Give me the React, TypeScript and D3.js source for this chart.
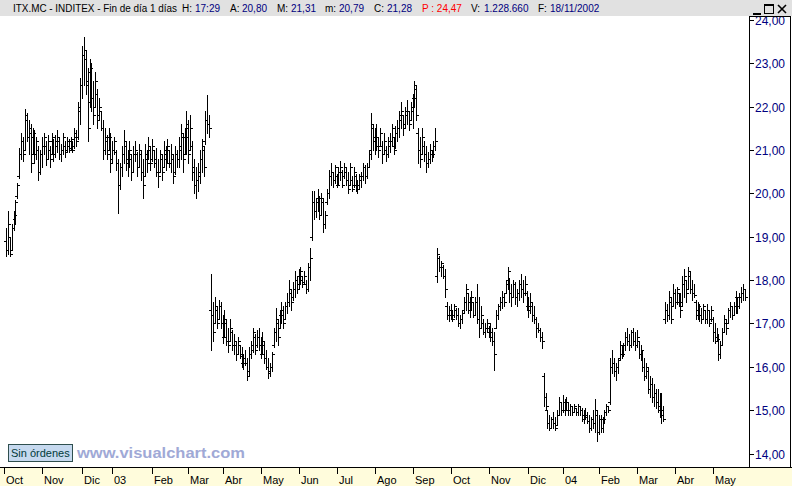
import React from 'react';
import * as d3 from 'd3';

// ---- OHLC data (daily bars) ----
const high = [
  19.2,19.6,19.0,19.3,19.6,19.85,20.25,21.05,21.4,21.3,
  21.95,21.85,21.7,21.6,21.5,21.45,21.3,21.1,21.0,21.3,
  21.4,21.2,21.35,21.1,21.4,21.25,21.35,21.45,21.3,21.15,
  21.4,21.2,21.3,21.25,21.3,21.2,21.5,21.45,22.1,22.65,
  23.4,23.6,23.3,22.9,23.1,23.0,22.6,22.8,22.4,22.2,
  21.9,21.7,21.5,21.35,21.5,21.4,21.2,21.3,21.0,20.8,
  20.7,21.1,21.45,21.2,21.0,21.2,20.9,21.1,21.2,20.95,
  21.15,21.0,20.8,21.15,21.0,21.3,21.1,21.25,21.0,21.05,
  20.8,21.0,20.9,21.2,21.1,21.25,21.0,21.15,20.9,21.1,
  21.0,21.3,21.6,21.4,21.5,21.9,21.7,21.8,21.2,20.8,
  20.6,20.7,21.0,21.25,21.1,21.9,22.27,21.8,
  18.15,17.5,17.6,17.4,17.55,17.5,17.2,17.3,17.1,16.9,
  17.1,16.85,16.75,16.6,16.7,16.5,16.45,16.3,16.4,16.2,
  16.45,16.6,16.9,16.75,16.85,16.9,16.7,16.8,16.6,16.4,
  16.2,16.1,16.35,16.9,17.35,17.1,17.3,17.5,17.4,17.5,
  17.7,18.0,17.8,17.95,18.2,18.1,18.25,18.3,18.1,18.2,
  18.0,18.4,18.73,
  20.05,20.05,19.9,20.1,19.95,20.0,19.9,19.6,20.1,20.55,
  20.7,20.5,20.65,20.45,20.6,20.75,20.55,20.7,20.6,20.5,
  20.7,20.4,20.6,20.45,20.3,20.45,20.5,20.7,20.65,20.7,
  21.0,21.85,21.6,21.5,21.6,21.3,21.5,21.2,21.4,21.1,
  21.3,21.4,21.6,21.3,21.55,21.7,21.9,22.1,21.8,22.0,
  22.15,21.9,22.1,22.3,22.6,22.5,21.5,21.3,21.5,21.2,
  21.1,20.95,21.15,21.0,21.2,21.5,
  18.73,18.55,18.45,18.35,18.25,17.5,17.4,17.45,17.3,17.45,
  17.35,17.35,17.2,17.3,17.6,17.9,17.7,17.6,17.75,17.5,
  17.6,17.9,17.6,17.4,17.1,17.0,17.1,16.95,17.0,16.9,
  16.8,17.3,17.45,17.6,17.75,17.7,18.0,18.3,18.05,17.9,
  18.0,17.95,17.8,18.0,18.15,18.0,18.1,17.75,17.6,17.7,
  17.5,17.4,17.15,17.0,16.9,16.8,
  15.85,15.4,15.0,14.9,14.85,14.95,14.85,15.0,15.3,15.2,
  15.35,15.25,15.3,15.2,15.15,15.1,15.15,15.05,15.15,15.1,
  15.05,15.0,15.05,14.95,14.9,14.85,15.0,15.25,15.0,14.9,
  14.9,14.85,15.0,15.15,15.1,16.2,16.38,16.2,16.1,16.2,
  16.6,16.5,16.55,16.8,16.9,16.75,16.85,16.9,16.8,16.85,
  16.6,16.5,16.4,16.2,16.1,16.0,15.8,15.75,15.6,15.5,
  15.5,15.4,15.4,15.1,
  17.5,17.45,17.75,17.6,17.9,17.8,17.85,17.7,17.7,18.1,
  18.25,18.0,18.3,18.2,18.0,17.9,17.55,17.5,17.45,17.35,
  17.45,17.3,17.45,17.3,17.4,17.15,17.0,16.9,16.75,16.6,
  16.9,17.2,17.1,17.35,17.5,17.4,17.5,17.75,17.6,17.7,
  17.85,17.9,17.8,
];

const low = [
  18.55,18.6,18.55,18.7,19.15,19.3,19.9,20.35,20.8,20.75,
  21.0,21.2,20.9,20.5,20.9,20.7,20.8,20.3,20.45,20.6,
  20.9,20.65,20.8,20.6,20.9,20.75,20.85,20.95,20.8,20.75,
  20.9,20.85,20.95,20.95,21.0,20.95,21.05,21.1,21.25,21.6,
  22.2,22.5,22.3,21.2,22.0,21.9,21.6,22.0,21.5,21.7,
  21.45,20.8,20.9,20.8,21.0,20.5,20.7,20.9,20.55,19.55,
  20.1,20.4,20.7,20.55,20.4,20.6,20.3,20.5,20.75,20.4,
  20.6,20.3,19.9,20.4,20.5,20.8,20.55,20.75,20.6,20.4,
  20.15,20.5,20.3,20.6,20.55,20.7,20.6,20.5,20.25,20.45,
  20.6,20.6,20.8,20.5,20.9,20.9,20.7,21.0,20.3,20.0,
  19.9,20.05,20.25,20.5,20.4,21.15,21.4,21.3,
  16.4,16.6,17.0,16.9,17.1,16.9,16.55,16.7,16.5,16.35,
  16.6,16.4,16.3,16.15,16.3,16.2,16.0,15.95,16.05,15.7,
  15.8,16.2,16.35,16.3,16.45,16.4,16.2,16.3,16.1,15.95,
  15.75,15.8,15.9,16.45,16.6,16.5,16.9,17.0,16.9,17.1,
  17.25,17.4,17.3,17.55,17.6,17.7,17.8,17.9,17.85,17.9,
  17.7,17.75,18.0,
  18.92,19.4,19.45,19.6,19.4,19.5,19.1,19.2,19.75,19.9,
  20.2,20.15,20.25,20.15,20.2,20.3,20.15,20.35,20.2,20.0,
  20.2,20.05,20.15,20.05,20.0,20.1,20.15,20.3,20.25,20.35,
  20.6,20.8,21.0,20.9,21.0,20.85,21.1,20.7,20.9,20.75,
  20.85,20.95,21.1,20.9,21.05,21.2,21.3,21.5,21.35,21.5,
  21.6,21.45,21.7,21.5,22.0,21.7,20.7,20.6,20.9,20.75,
  20.5,20.6,20.7,20.75,20.85,21.0,
  17.95,18.2,18.1,18.05,17.6,17.1,17.05,17.1,17.05,17.15,
  17.1,16.95,16.9,17.0,17.25,17.3,17.25,17.15,17.3,17.15,
  17.2,17.0,16.7,16.9,16.75,16.7,16.8,16.7,16.6,16.5,
  15.92,16.9,17.1,17.3,17.35,17.4,17.7,17.8,17.5,17.4,
  17.6,17.45,17.4,17.55,17.6,17.5,17.65,17.3,17.15,17.25,
  17.05,17.0,16.7,16.8,16.6,16.43,
  15.1,15.0,14.6,14.55,14.6,14.6,14.55,14.65,14.9,14.9,
  14.95,14.9,15.0,14.9,14.9,14.9,14.95,14.88,14.9,14.9,
  14.75,14.7,14.8,14.7,14.5,14.55,14.6,14.5,14.3,14.45,
  14.5,14.5,14.7,14.9,14.95,15.15,15.85,15.8,15.7,15.85,
  16.15,16.2,16.25,16.4,16.5,16.4,16.45,16.5,16.4,16.45,
  16.2,16.15,15.9,15.7,15.75,15.4,15.3,15.2,15.1,15.05,
  14.95,14.85,14.7,14.75,
  17.0,17.05,17.1,17.0,17.4,17.35,17.45,17.4,17.15,17.4,
  17.6,17.5,17.8,17.7,17.55,17.6,17.1,17.1,17.05,17.0,
  17.1,17.0,17.0,16.95,17.05,16.6,16.55,16.6,16.15,16.2,
  16.5,16.8,16.75,17.0,17.15,17.1,17.2,17.25,17.25,17.35,
  17.5,17.55,17.55,
];

const open = [
  18.9,18.7,19.0,18.7,19.2,19.4,19.95,20.4,20.9,21.2,
  21.0,21.7,21.3,21.4,20.9,21.3,20.9,21.0,20.5,20.9,
  21.1,21.1,20.8,21.0,20.9,21.2,20.9,21.1,21.2,20.9,
  21.0,21.1,21.0,21.1,21.05,21.2,21.1,21.3,21.3,21.9,
  22.5,23.2,23.1,22.6,22.1,22.8,22.2,22.0,22.3,21.8,
  21.9,21.5,21.0,21.2,21.0,21.3,20.8,21.0,20.95,20.7,
  20.2,20.6,20.9,21.1,20.7,20.8,20.9,20.5,20.9,20.9,
  20.6,20.9,20.5,20.4,20.9,20.8,21.0,20.8,21.0,20.8,
  20.5,20.5,20.8,20.6,20.9,20.8,21.0,20.7,20.8,20.5,
  20.9,20.8,21.0,21.3,20.9,21.3,21.5,21.0,21.1,20.6,
  20.2,20.3,20.4,20.8,21.0,21.2,21.7,21.6,
  17.3,17.2,17.0,17.3,17.1,17.4,17.0,16.7,17.0,16.6,
  16.6,16.8,16.5,16.5,16.3,16.5,16.3,16.1,16.2,16.1,
  15.9,16.3,16.4,16.7,16.5,16.7,16.5,16.3,16.5,16.2,
  16.0,15.9,16.0,16.5,16.8,17.0,16.9,17.2,17.3,17.1,
  17.4,17.5,17.7,17.6,17.8,18.0,17.9,18.1,18.0,17.95,
  17.9,17.8,18.3,
  19.0,19.8,19.6,19.8,19.9,19.5,19.8,19.3,19.8,20.0,
  20.4,20.5,20.3,20.4,20.2,20.5,20.5,20.4,20.5,20.3,
  20.2,20.3,20.2,20.4,20.2,20.1,20.3,20.4,20.6,20.4,
  20.6,21.0,21.5,21.2,21.3,21.1,21.1,21.1,20.9,21.0,
  20.9,21.1,21.2,21.3,21.1,21.4,21.5,21.7,21.8,21.6,
  21.8,21.9,21.7,21.9,22.2,22.4,21.4,21.0,20.9,21.1,
  20.9,20.7,20.8,20.9,20.9,21.1,
  18.1,18.5,18.3,18.3,18.1,17.4,17.2,17.3,17.2,17.2,
  17.3,17.2,17.0,17.1,17.3,17.5,17.7,17.3,17.5,17.5,
  17.2,17.5,17.1,16.9,17.0,16.8,16.9,16.9,16.8,16.7,
  16.6,16.9,17.2,17.4,17.5,17.6,17.7,17.9,18.0,17.7,
  17.6,17.9,17.6,17.7,17.9,17.8,17.7,17.7,17.4,17.3,
  17.4,17.2,17.1,16.9,16.85,16.7,
  15.8,15.3,15.0,14.7,14.6,14.8,14.7,14.65,14.9,15.2,
  15.0,15.2,15.0,15.2,15.0,15.1,14.95,15.05,14.95,15.1,
  15.0,14.8,14.9,14.85,14.75,14.6,14.8,14.7,14.9,14.5,
  14.8,14.6,14.8,14.95,15.1,15.2,16.0,16.1,15.9,16.0,
  16.2,16.5,16.3,16.5,16.7,16.6,16.5,16.8,16.6,16.5,
  16.6,16.3,16.3,16.0,15.8,15.9,15.5,15.6,15.3,15.4,
  15.2,15.1,15.0,14.9,
  17.1,17.3,17.2,17.5,17.4,17.7,17.5,17.7,17.5,17.4,
  17.9,18.0,17.8,18.1,17.8,17.7,17.5,17.2,17.3,17.2,
  17.1,17.3,17.1,17.3,17.1,17.1,16.8,16.7,16.6,16.3,
  16.5,16.8,17.0,17.0,17.3,17.4,17.2,17.4,17.6,17.4,
  17.6,17.7,17.8,
];

const close = [
  18.7,19.3,18.6,19.2,19.5,19.8,20.2,20.9,21.2,20.9,
  21.8,21.3,21.5,20.7,21.4,20.9,21.2,20.5,20.9,21.1,
  21.3,20.8,21.2,20.8,21.3,20.9,21.2,21.3,20.9,21.0,
  21.3,20.95,21.2,21.0,21.25,21.0,21.4,21.2,22.0,22.5,
  23.2,23.3,22.5,21.5,22.9,22.2,21.8,22.6,21.7,22.0,
  21.5,21.0,21.3,20.9,21.3,20.7,21.0,21.2,20.7,20.2,
  20.6,20.9,21.2,20.7,20.8,21.0,20.5,20.9,21.0,20.6,
  21.0,20.5,20.2,20.9,20.7,21.1,20.7,21.1,20.7,20.5,
  20.4,20.9,20.5,21.0,20.7,21.1,20.7,20.9,20.4,20.9,
  20.8,21.1,21.4,20.8,21.3,21.6,20.9,21.5,20.5,20.2,
  20.3,20.5,20.8,21.1,20.6,21.7,21.6,21.5,
  17.2,16.8,17.4,17.0,17.4,17.0,16.7,17.1,16.6,16.5,
  16.9,16.5,16.6,16.3,16.6,16.25,16.1,16.2,16.1,15.8,
  16.3,16.5,16.8,16.4,16.7,16.5,16.3,16.6,16.2,16.0,
  15.85,16.0,16.3,16.8,17.1,16.7,17.2,17.3,17.0,17.4,
  17.5,17.8,17.5,17.8,18.0,17.8,18.1,18.2,17.9,18.1,
  17.8,18.3,18.5,
  19.8,19.6,19.8,19.9,19.5,19.9,19.3,19.5,20.0,20.4,
  20.5,20.3,20.6,20.2,20.5,20.6,20.2,20.6,20.3,20.1,
  20.6,20.1,20.5,20.2,20.1,20.4,20.4,20.6,20.4,20.6,
  20.9,21.6,21.2,21.3,21.1,21.0,21.4,20.9,21.2,20.9,
  21.2,21.2,21.5,21.0,21.4,21.5,21.8,21.9,21.5,21.9,
  21.9,21.6,22.0,22.2,22.5,21.8,21.0,20.8,21.3,20.9,
  20.7,20.8,21.0,20.9,21.1,21.2,
  18.6,18.3,18.4,18.1,17.8,17.2,17.3,17.2,17.1,17.4,
  17.2,17.0,17.1,17.25,17.5,17.8,17.3,17.5,17.6,17.2,
  17.5,17.1,16.9,17.2,16.8,16.9,17.0,16.8,16.7,16.6,
  16.3,17.2,17.4,17.5,17.6,17.5,17.9,18.2,17.7,17.6,
  17.9,17.6,17.7,17.9,17.8,17.7,17.9,17.4,17.3,17.5,
  17.2,17.1,16.9,16.85,16.7,16.6,
  15.3,15.1,14.7,14.6,14.8,14.7,14.6,14.9,15.2,15.0,
  15.2,15.0,15.2,15.0,15.1,14.95,15.1,14.95,15.1,15.0,
  14.8,14.9,14.85,14.75,14.6,14.8,14.7,15.0,14.5,14.8,
  14.6,14.8,14.95,15.1,15.0,16.0,16.1,15.9,16.0,16.15,
  16.5,16.3,16.5,16.7,16.6,16.5,16.8,16.6,16.5,16.7,
  16.3,16.4,16.0,15.8,16.0,15.5,15.6,15.3,15.4,15.2,
  15.1,15.0,14.9,14.8,
  17.3,17.2,17.6,17.1,17.7,17.5,17.8,17.5,17.3,17.9,
  18.1,17.7,18.2,17.8,17.7,17.65,17.2,17.4,17.2,17.1,
  17.4,17.1,17.3,17.0,17.3,16.8,16.7,16.65,16.3,16.5,
  16.8,17.1,16.9,17.3,17.4,17.2,17.4,17.6,17.4,17.6,
  17.7,17.8,17.6,
];

// ---- axis labels ----
const monthLabels = ['Oct','Nov','Dic','03','Feb','Mar','Abr','May','Jun','Jul','Ago','Sep','Oct','Nov','Dic','04','Feb','Mar','Abr','May'];
const monthStartBar = [-1,19,40,56,77,96,114,134,154,174,194,214,234,254,275,293,312,332,352,372];
const priceTicks = [14,15,16,17,18,19,20,21,22,23,24];

// header pieces: [text, colour kind]
const headerParts = [
  ['ITX.MC - INDITEX - Fin de día 1 días', 'k'],
  ['H:', 'k'], ['17:29', 'v'],
  ['A:', 'k'], ['20,80', 'v'],
  ['M:', 'k'], ['21,31', 'v'],
  ['m:', 'k'], ['20,79', 'v'],
  ['C:', 'k'], ['21,28', 'v'],
  ['P : 24,47', 'r'],
  ['V:', 'k'], ['1.228.660', 'v'],
  ['F:', 'k'], ['18/11/2002', 'v'],
];
const headerX = [13, 182, 195, 230, 242, 277, 291, 325, 339, 374, 387, 422, 471, 484, 538, 550];

const fmt = (v: number) => v.toFixed(2).replace('.', ',');

export default function App() {
  const W = 792, H = 486;
  const N = high.length;
  const x = d3.scaleLinear().domain([0, N - 1]).range([6, 745]);
  const y = d3.scaleLinear().domain([14, 24]).range([453.6, 19.9]);

  let d = '';
  for (let i = 0; i < N; i++) {
    const X = Math.round(x(i));
    const yh = Math.round(y(high[i]));
    const yl = Math.round(y(low[i])) + 1;
    const yo = Math.round(y(open[i])) + 0.5;
    const yc = Math.round(y(close[i])) + 0.5;
    d += `M${X + 0.5},${yh}V${yl}M${X - 2},${yo}H${X}M${X + 1},${yc}H${X + 3}`;
  }

  const colour: Record<string, string> = { k: '#000000', v: '#000080', r: '#ff0000' };
  const font = "'Liberation Sans', Arial, sans-serif";

  return (
    <svg width={W} height={H} style={{ position: 'absolute', left: 0, top: 0, background: '#fff' }}
      fontFamily={font}>
      <defs>
        <clipPath id="chartClip"><rect x={0} y={16} width={749} height={451} /></clipPath>
        <clipPath id="axisClip"><rect x={749} y={17} width={42} height={450} /></clipPath>
      </defs>
      <rect x={0} y={0} width={W} height={H} fill="#ffffff" />

      {/* bars */}
      <g clipPath="url(#chartClip)">
        <path d={d} stroke="#000" strokeWidth={1} fill="none" shapeRendering="crispEdges" />
      </g>

      {/* right axis */}
      <g clipPath="url(#axisClip)">
        {priceTicks.map(v => {
          const Y = Math.round(y(v));
          return (
            <g key={v}>
              <line x1={749} x2={754} y1={Y + 0.5} y2={Y + 0.5} stroke="#000" shapeRendering="crispEdges" />
              <text x={755} y={Y + 4.5} fontSize={12} fill="#000080">{fmt(v)}</text>
            </g>
          );
        })}
      </g>
      <path d="M749.5,16V467M749,16.5H791M790.5,16V467" stroke="#000" fill="none" shapeRendering="crispEdges" />

      {/* footer label + watermark */}
      <rect x={8.5} y={444.5} width={64} height={17} fill="#c6d9ef" stroke="#2f4f4f" shapeRendering="crispEdges" />
      <text x={11} y={457} fontSize={11} fill="#003a3a">Sin órdenes</text>
      <text x={77} y={458} fontSize={15} fontWeight="bold" fill="#a0a9d6" textLength={168} lengthAdjust="spacingAndGlyphs">www.visualchart.com</text>

      {/* bottom axis */}
      <rect x={0} y={468} width={W} height={H - 468} fill="#fffcdc" />
      <line x1={0} x2={W} y1={467.5} y2={467.5} stroke="#000" shapeRendering="crispEdges" />
      {monthLabels.map((m, k) => {
        const X = Math.round(x(monthStartBar[k]));
        return (
          <g key={k}>
            <line x1={X + 0.5} x2={X + 0.5} y1={468} y2={474} stroke="#000" shapeRendering="crispEdges" />
            <text x={X + 2} y={484} fontSize={11} fill="#000">{m}</text>
          </g>
        );
      })}

      {/* title bar */}
      <rect x={0} y={0} width={W} height={16} fill="#e1e1e1" />
      {headerParts.map(([t, c], k) => (
        <text key={k} x={headerX[k]} y={12} fontSize={10} fill={colour[c]}
          {...(k === 0 ? { textLength: 164, lengthAdjust: 'spacingAndGlyphs' } : {})}>{t}</text>
      ))}
      {/* window buttons */}
      <path d="M753,13.5H761M753,14.5H761" stroke="#000" shapeRendering="crispEdges" />
      <rect x={764.5} y={4.5} width={9} height={9} fill="none" stroke="#000" shapeRendering="crispEdges" />
      <line x1={764} x2={774} y1={5.5} y2={5.5} stroke="#000" shapeRendering="crispEdges" />
      <path d="M778,5L786,13M786,5L778,13" stroke="#000" strokeWidth={1.6} />
    </svg>
  );
}
